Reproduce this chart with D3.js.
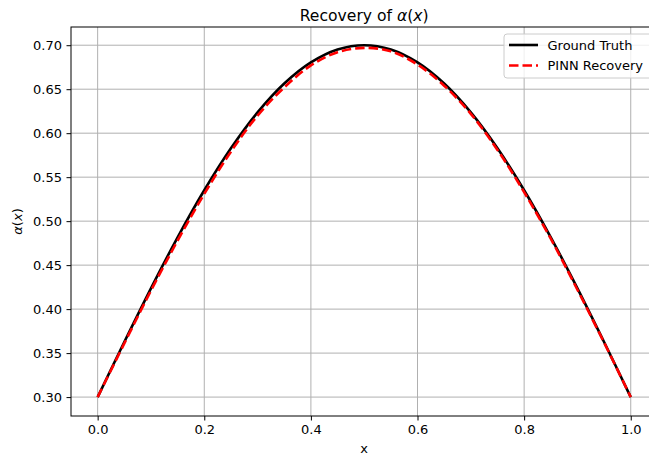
<!DOCTYPE html>
<html>
<head>
<meta charset="utf-8">
<script src="https://cdn.jsdelivr.net/npm/d3@7"></script>
<style>
  html, body { margin: 0; padding: 0; background: #fff; overflow: hidden; }
  svg { display: block; font-family: "DejaVu Sans", sans-serif; }
</style>
</head>
<body>
<svg id="chart" width="649" height="457"></svg>
<script>
// ---- data ----
const xValues = [0.00, 0.05, 0.10, 0.15, 0.20, 0.25, 0.30, 0.35, 0.40, 0.45, 0.50,
                 0.55, 0.60, 0.65, 0.70, 0.75, 0.80, 0.85, 0.90, 0.95, 1.00];
const groundTruth = [0.300, 0.3626, 0.4236, 0.4816, 0.5351, 0.5828, 0.6236, 0.6564, 0.6804, 0.6951, 0.700,
                     0.6951, 0.6804, 0.6564, 0.6236, 0.5828, 0.5351, 0.4816, 0.4236, 0.3626, 0.300];
const pinnRecovery = [0.300, 0.361, 0.421, 0.478, 0.531, 0.579, 0.620, 0.652, 0.677, 0.692, 0.697,
                      0.693, 0.678, 0.654, 0.622, 0.581, 0.533, 0.480, 0.422, 0.362, 0.300];
const xTicks = [0.0, 0.2, 0.4, 0.6, 0.8, 1.0];
const yTicks = [0.30, 0.35, 0.40, 0.45, 0.50, 0.55, 0.60, 0.65, 0.70];
const seriesNames = ["Ground Truth", "PINN Recovery"];

// ---- layout ----
const pL = 71, pR = 657.4, pT = 27, pB = 416;
const svg = d3.select("#chart");

const x = d3.scaleLinear().domain([-0.05, 1.05]).range([pL, pR]);
const y = d3.scaleLinear().domain([0.2785, 0.7207]).range([pB, pT]);

// grid
const grid = svg.append("g");
grid.selectAll("line.vx").data(xTicks).join("line")
  .attr("x1", d => x(d)).attr("x2", d => x(d))
  .attr("y1", pT).attr("y2", pB)
  .attr("stroke", "#b0b0b0").attr("stroke-width", 1);
grid.selectAll("line.hy").data(yTicks).join("line")
  .attr("x1", pL).attr("x2", pR)
  .attr("y1", d => y(d)).attr("y2", d => y(d))
  .attr("stroke", "#b0b0b0").attr("stroke-width", 1);

// axes
const xAxis = d3.axisBottom(x).tickValues(xTicks).tickFormat(d3.format(".1f")).tickSize(4.5).tickPadding(4.5);
const yAxis = d3.axisLeft(y).tickValues(yTicks).tickFormat(d3.format(".2f")).tickSize(4.5).tickPadding(4.5);

const gx = svg.append("g").attr("transform", `translate(0,${pB})`).call(xAxis);
const gy = svg.append("g").attr("transform", `translate(${pL},0)`).call(yAxis);
[gx, gy].forEach(g => {
  g.select(".domain").remove();
  g.selectAll(".tick line").attr("stroke", "#000").attr("stroke-width", 1);
  g.selectAll(".tick text").attr("fill", "#000").style("font-size", "13px")
    .style("font-family", "DejaVu Sans, sans-serif");
});

// data lines
const pts = arr => xValues.map((v, i) => [v, arr[i]]);
const line = d3.line().x(d => x(d[0])).y(d => y(d[1])).curve(d3.curveCatmullRom.alpha(0.5));

svg.append("path").datum(pts(groundTruth))
  .attr("d", line).attr("fill", "none").attr("stroke", "#000").attr("stroke-width", 2.6);
svg.append("path").datum(pts(pinnRecovery))
  .attr("d", line).attr("fill", "none").attr("stroke", "#ff0000").attr("stroke-width", 2.6)
  .attr("stroke-dasharray", "9.5,4");

// spines
svg.append("rect").attr("x", pL).attr("y", pT)
  .attr("width", pR - pL).attr("height", pB - pT)
  .attr("fill", "none").attr("stroke", "#000").attr("stroke-width", 1);

// title
const title = svg.append("text").attr("x", (pL + pR) / 2).attr("y", 20.5)
  .attr("text-anchor", "middle").style("font-size", "15.6px").attr("fill", "#000");
title.append("tspan").text("Recovery of ");
title.append("tspan").style("font-style", "italic").text("α");
title.append("tspan").text("(");
title.append("tspan").style("font-style", "italic").text("x");
title.append("tspan").text(")");

// x label
svg.append("text").attr("x", (pL + pR) / 2).attr("y", 453)
  .attr("text-anchor", "middle").style("font-size", "13px").attr("fill", "#000").text("x");

// y label
const yl = svg.append("text").attr("transform", `translate(22,${(pT + pB) / 2}) rotate(-90)`)
  .attr("text-anchor", "middle").style("font-size", "13px").attr("fill", "#000");
yl.append("tspan").style("font-style", "italic").text("α");
yl.append("tspan").text("(");
yl.append("tspan").style("font-style", "italic").text("x");
yl.append("tspan").text(")");

// legend
const lg = svg.append("g");
lg.append("rect").attr("x", 504).attr("y", 34).attr("width", 160).attr("height", 44)
  .attr("rx", 3).attr("fill", "#fff").attr("fill-opacity", 0.8)
  .attr("stroke", "#cccccc").attr("stroke-width", 1);
const styles = [{c: "#000", dash: null}, {c: "#ff0000", dash: "9.5,4"}];
seriesNames.forEach((name, i) => {
  const cy = 45 + i * 20.5;
  const l = lg.append("line").attr("x1", 509).attr("x2", 538).attr("y1", cy).attr("y2", cy)
    .attr("stroke", styles[i].c).attr("stroke-width", 2.6);
  if (styles[i].dash) l.attr("stroke-dasharray", styles[i].dash);
  lg.append("text").attr("x", 547.5).attr("y", cy + 4.6).style("font-size", "13px")
    .attr("fill", "#000").text(name);
});
</script>
</body>
</html>
